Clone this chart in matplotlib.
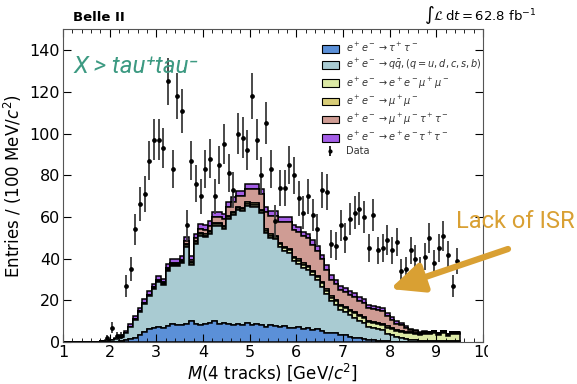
import numpy as np
import matplotlib
matplotlib.use("Agg")
import matplotlib.pyplot as plt
from matplotlib.patches import Patch, Rectangle, FancyArrowPatch

# ---------------- data ----------------
bin_edges = np.round(np.arange(1.0, 9.5001, 0.1), 2)
centers = np.round(bin_edges[:-1] + 0.05, 2)

# stacked MC components (85 bins, 1.0 - 9.5 GeV)
tautau = [0]*9 + [0.1, 0.2, 0.3, 0.5, 0.8, 1.3, 2, 3.5, 5, 6.2, 6.8,
          7.2, 7, 7.8, 8.6, 8.4, 8, 8.6, 10.2, 8.6, 8, 8.6, 9.4, 10.2, 8.8, 9.4, 8.6, 8, 8.8, 8.4, 9.2,
          8.4, 8.8, 8, 7.4, 8.4, 7.8, 7.2, 7.8, 7.0, 6.8, 7.4, 6.2, 6.6, 5.6, 6.2, 5.2, 4.6, 4.2, 4.6, 3.6,
          3.2, 2.6, 2.2, 1.8, 1.4, 1.1, 0.8, 0.6, 0.5, 0.4, 0.3, 0.2, 0.2, 0.1, 0.1, 0.1, 0.1, 0.1, 0.1, 0.1,
          0.1, 0.1, 0.1, 0.1, 0.1]
qqbar = [0]*4 + [0.05, 0.1, 0.2, 0.3, 0.4, 0.6, 0.8, 1.4, 2.2, 3.6, 5.8, 8.6, 11.0, 13.3, 16.0, 18.9,
         21.4, 20.6, 26.4, 28.1, 28.2, 29.7, 37.2, 26.8, 38.4, 42.9, 41.6, 42.5, 45.5, 46.7, 44.8, 50.5,
         53.1, 54.6, 54.5, 56.0, 56.3, 55.9, 53.7, 44.9, 41.3, 41.4, 38.5, 35.8, 35.6, 31.9, 30.2, 29.4,
         28.0, 26.4, 23.4, 21.3, 18.4, 15.3, 13.4, 11.9, 11.2, 10.3, 9.6, 8.5, 7.8, 6.1, 5.8, 5.5, 5.1,
         3.7, 2.9, 2.1, 1.6, 1.2, 1.0, 0.8, 0.6, 0.6, 0.5, 0.5, 0.4, 0.4, 0.3, 0.3, 0.3]
eemumu = [0]*15 + [0.2, 0.2, 0.3, 0.3, 0.3, 0.4, 0.4, 0.5, 0.5, 0.5, 0.6, 0.8, 0.8, 0.8, 0.9, 0.9,
          0.9, 1, 1, 1, 1, 1, 1.1, 1.1, 1.2, 1.2, 1.2, 1.2, 1.2, 1.3, 1.3, 1.3, 1.4, 1.4, 1.4, 1.5, 1.5,
          1.5, 1.6, 1.6, 1.7, 1.7, 1.8, 1.8, 1.9, 2, 2, 2.1, 2.2, 2.3, 2.4, 2.5, 2.6, 2.7, 2.8, 2.9, 3,
          3.1, 3.1, 3.1, 3.1, 2.8, 3.1, 3.2, 3.7, 2.9, 3.9, 2.7, 3.7, 3.7]
mumu = ([0]*13 + [0.1, 0.1, 0.2, 0.2, 0.2, 0.2, 0.2, 0.3, 0.3, 0.3, 0.3, 0.3, 0.4, 0.5, 0.5, 0.5]
        + [0.5]*10 + [0.6]*34 + [0.5]*3 + [0.4]*6 + [0.3]*3)
mumutautau = [0]*20 + [0.3, 0.3, 0.5, 0.5, 0.6, 0.8, 1.2, 1.2, 1.5, 2, 2.2, 2.5, 3, 3.2, 3.5, 4,
              4.5, 5, 5.5, 6.5, 7, 7, 7.5, 8.5, 9, 9.5, 10, 12, 13, 13, 13, 13, 13, 12.5, 12, 11,
              9.5, 8, 7.5, 7, 7, 7, 7, 6.5, 6.5, 6, 6, 6, 6, 5, 4, 3, 2.5, 1.8, 1.2, 1, 0.7, 0.6,
              0.5, 0.5, 0.4, 0.4, 0.4, 0.4, 0.4]
eetautau = [0]*8 + [0.1, 0.1, 0.2, 0.3, 0.5, 1.0, 1.3, 1.5, 1.6, 1.7, 1.8, 1.8, 1.9, 1.9, 2, 2, 2,
            2, 2.2, 2, 2.2, 2.2, 2.2, 2.2, 2.3, 2.3, 2.3, 2.4, 2.4, 2.5, 2.5, 2.5, 2.5, 2.5, 2.5,
            2.4, 2.4, 2.4, 2.4, 2.4, 2.4, 2.3, 2.3, 2.3, 2.3, 2.3, 2.2, 2.2, 2.2, 2.1, 2.1, 2,
            2, 2, 2, 1.9, 1.9, 1.8, 1.8, 1.7, 1.6, 1.5, 1.3, 1.1, 1, 0.8, 0.6, 0.5, 0.4, 0.4,
            0.3, 0.3, 0.3, 0.3, 0.2, 0.2, 0.2]

data_x = [1.95, 2.05, 2.15, 2.25, 2.35, 2.45, 2.55, 2.65, 2.75, 2.85, 2.95, 3.05, 3.15, 3.25,
          3.35, 3.45, 3.55, 3.65, 3.75, 3.85, 3.95, 4.05, 4.15, 4.25, 4.35, 4.45, 4.55, 4.65,
          4.75, 4.85, 4.95, 5.05, 5.15, 5.25, 5.35, 5.45, 5.55, 5.65, 5.75, 5.85, 5.95, 6.05,
          6.15, 6.25, 6.35, 6.45, 6.55, 6.65, 6.75, 6.85, 6.95, 7.05, 7.15, 7.25, 7.35, 7.45,
          7.55, 7.65, 7.75, 7.85, 7.95, 8.05, 8.15, 8.25, 8.35, 8.45, 8.55, 8.65, 8.75, 8.85,
          8.95, 9.05, 9.15, 9.25, 9.35, 9.45]
data_y = [2, 7, 3, 3, 27, 35, 54, 66, 71, 87, 97, 97, 93, 125,
          83, 118, 111, 56, 87, 76, 70, 83, 88, 70, 85, 95, 81, 73,
          100, 98, 92, 118, 97, 80, 105, 83, 58, 74, 74, 85, 80, 69,
          62, 70, 61, 54, 73, 72, 47, 46, 56, 50, 59, 62, 64, 60,
          45, 61, 44, 45, 49, 44, 48, 34, 35, 44, 40, 35, 41, 50,
          38, 45, 51, 42, 27, 39]

labels = [r"$e^+e^-\to\tau^+\tau^-$",
          r"$e^+e^-\to q\bar{q}, (q=u,d,c,s,b)$",
          r"$e^+e^-\to e^+e^-\mu^+\mu^-$",
          r"$e^+e^-\to\mu^+\mu^-$",
          r"$e^+e^-\to\mu^+\mu^-\tau^+\tau^-$",
          r"$e^+e^-\to e^+e^-\tau^+\tau^-$"]
colors = ["#5b90d8", "#a9cbd2", "#dce9a6", "#d8cd78", "#cf9c94", "#a45ee6"]

# ---------------- plot ----------------
plt.rcParams['mathtext.fontset'] = 'dejavusans'
fig = plt.figure(figsize=(5.77, 3.84), dpi=100)
ax = fig.add_axes([0.109, 0.109, 0.728, 0.815])

components = [tautau, qqbar, eemumu, mumu, mumutautau, eetautau]
ax.hist([centers]*6, bins=bin_edges, weights=components, stacked=True,
        histtype='stepfilled', color=colors, edgecolor='black', linewidth=1.1)

dy = np.sqrt(np.array(data_y, dtype=float))
ax.errorbar(data_x, data_y, yerr=dy, fmt='o', ms=2.4, color='black',
            ecolor='#3a3a3a', elinewidth=1.3, capsize=0, zorder=5)

ax.set_xlim(1, 10)
ax.set_ylim(0, 150)
ax.set_xticks(range(1, 11))
ax.set_yticks(range(0, 141, 20))
ax.xaxis.set_minor_locator(matplotlib.ticker.MultipleLocator(0.2))
ax.tick_params(which='both', direction='in', top=True, right=True, labelsize=11.5, pad=2)
ax.tick_params(which='major', length=6)
ax.tick_params(which='minor', length=3)
for s in ax.spines.values():
    s.set_color('#555555')

ax.set_xlabel(r"$M$(4 tracks) [GeV/$c^2$]", fontsize=12, labelpad=1)
ax.set_ylabel(r"Entries / (100 MeV/$c^2$)", fontsize=12, labelpad=4)

handles = [Patch(facecolor=c, edgecolor='black', linewidth=0.8) for c in colors]
eb = ax.errorbar([], [], yerr=[], fmt='o', ms=2, color='black', elinewidth=1.2, capsize=0)
handles.append(eb)
leg = ax.legend(handles, labels + ["Data"], loc='upper left', bbox_to_anchor=(0.595, 0.99),
                frameon=False, fontsize=7, handlelength=1.8, handleheight=0.8,
                labelspacing=0.32, handletextpad=0.75, labelcolor='#333333')

fig.text(0.127, 0.955, "Belle II", fontsize=9.5, fontweight='bold', va='center')
fig.text(0.735, 0.962, r"$\int\mathcal{L}\,\mathrm{d}t = 62.8\ \mathrm{fb}^{-1}$",
         fontsize=9.5, va='center')

# white cover on the right (cropped original)
fig.patches.append(Rectangle((488/577, 0), 1, 0.93, transform=fig.transFigure,
                             facecolor='white', edgecolor='none', zorder=10))

ax.text(0.025, 0.88, "X > tau\u207atau\u207b", transform=ax.transAxes, fontsize=17.5,
        color='#3d9a82', family='Roboto', fontstyle='italic', fontweight='normal',
        va='center', zorder=12)

fig.text(575/577, 1 - 222/384, "Lack of ISR", fontsize=17, color='#d9a033',
         family='Roboto', fontweight='normal', ha='right', va='center', zorder=12)
arrow = FancyArrowPatch((508/577, 1 - 249/384), (390/577, 1 - 289/384),
                        transform=fig.transFigure,
                        arrowstyle='-|>,head_length=1.0,head_width=0.45',
                        mutation_scale=20, lw=4.5, color='#d9a033',
                        shrinkA=0, shrinkB=0, zorder=12)
fig.add_artist(arrow)

fig.savefig("out.png", dpi=100)
